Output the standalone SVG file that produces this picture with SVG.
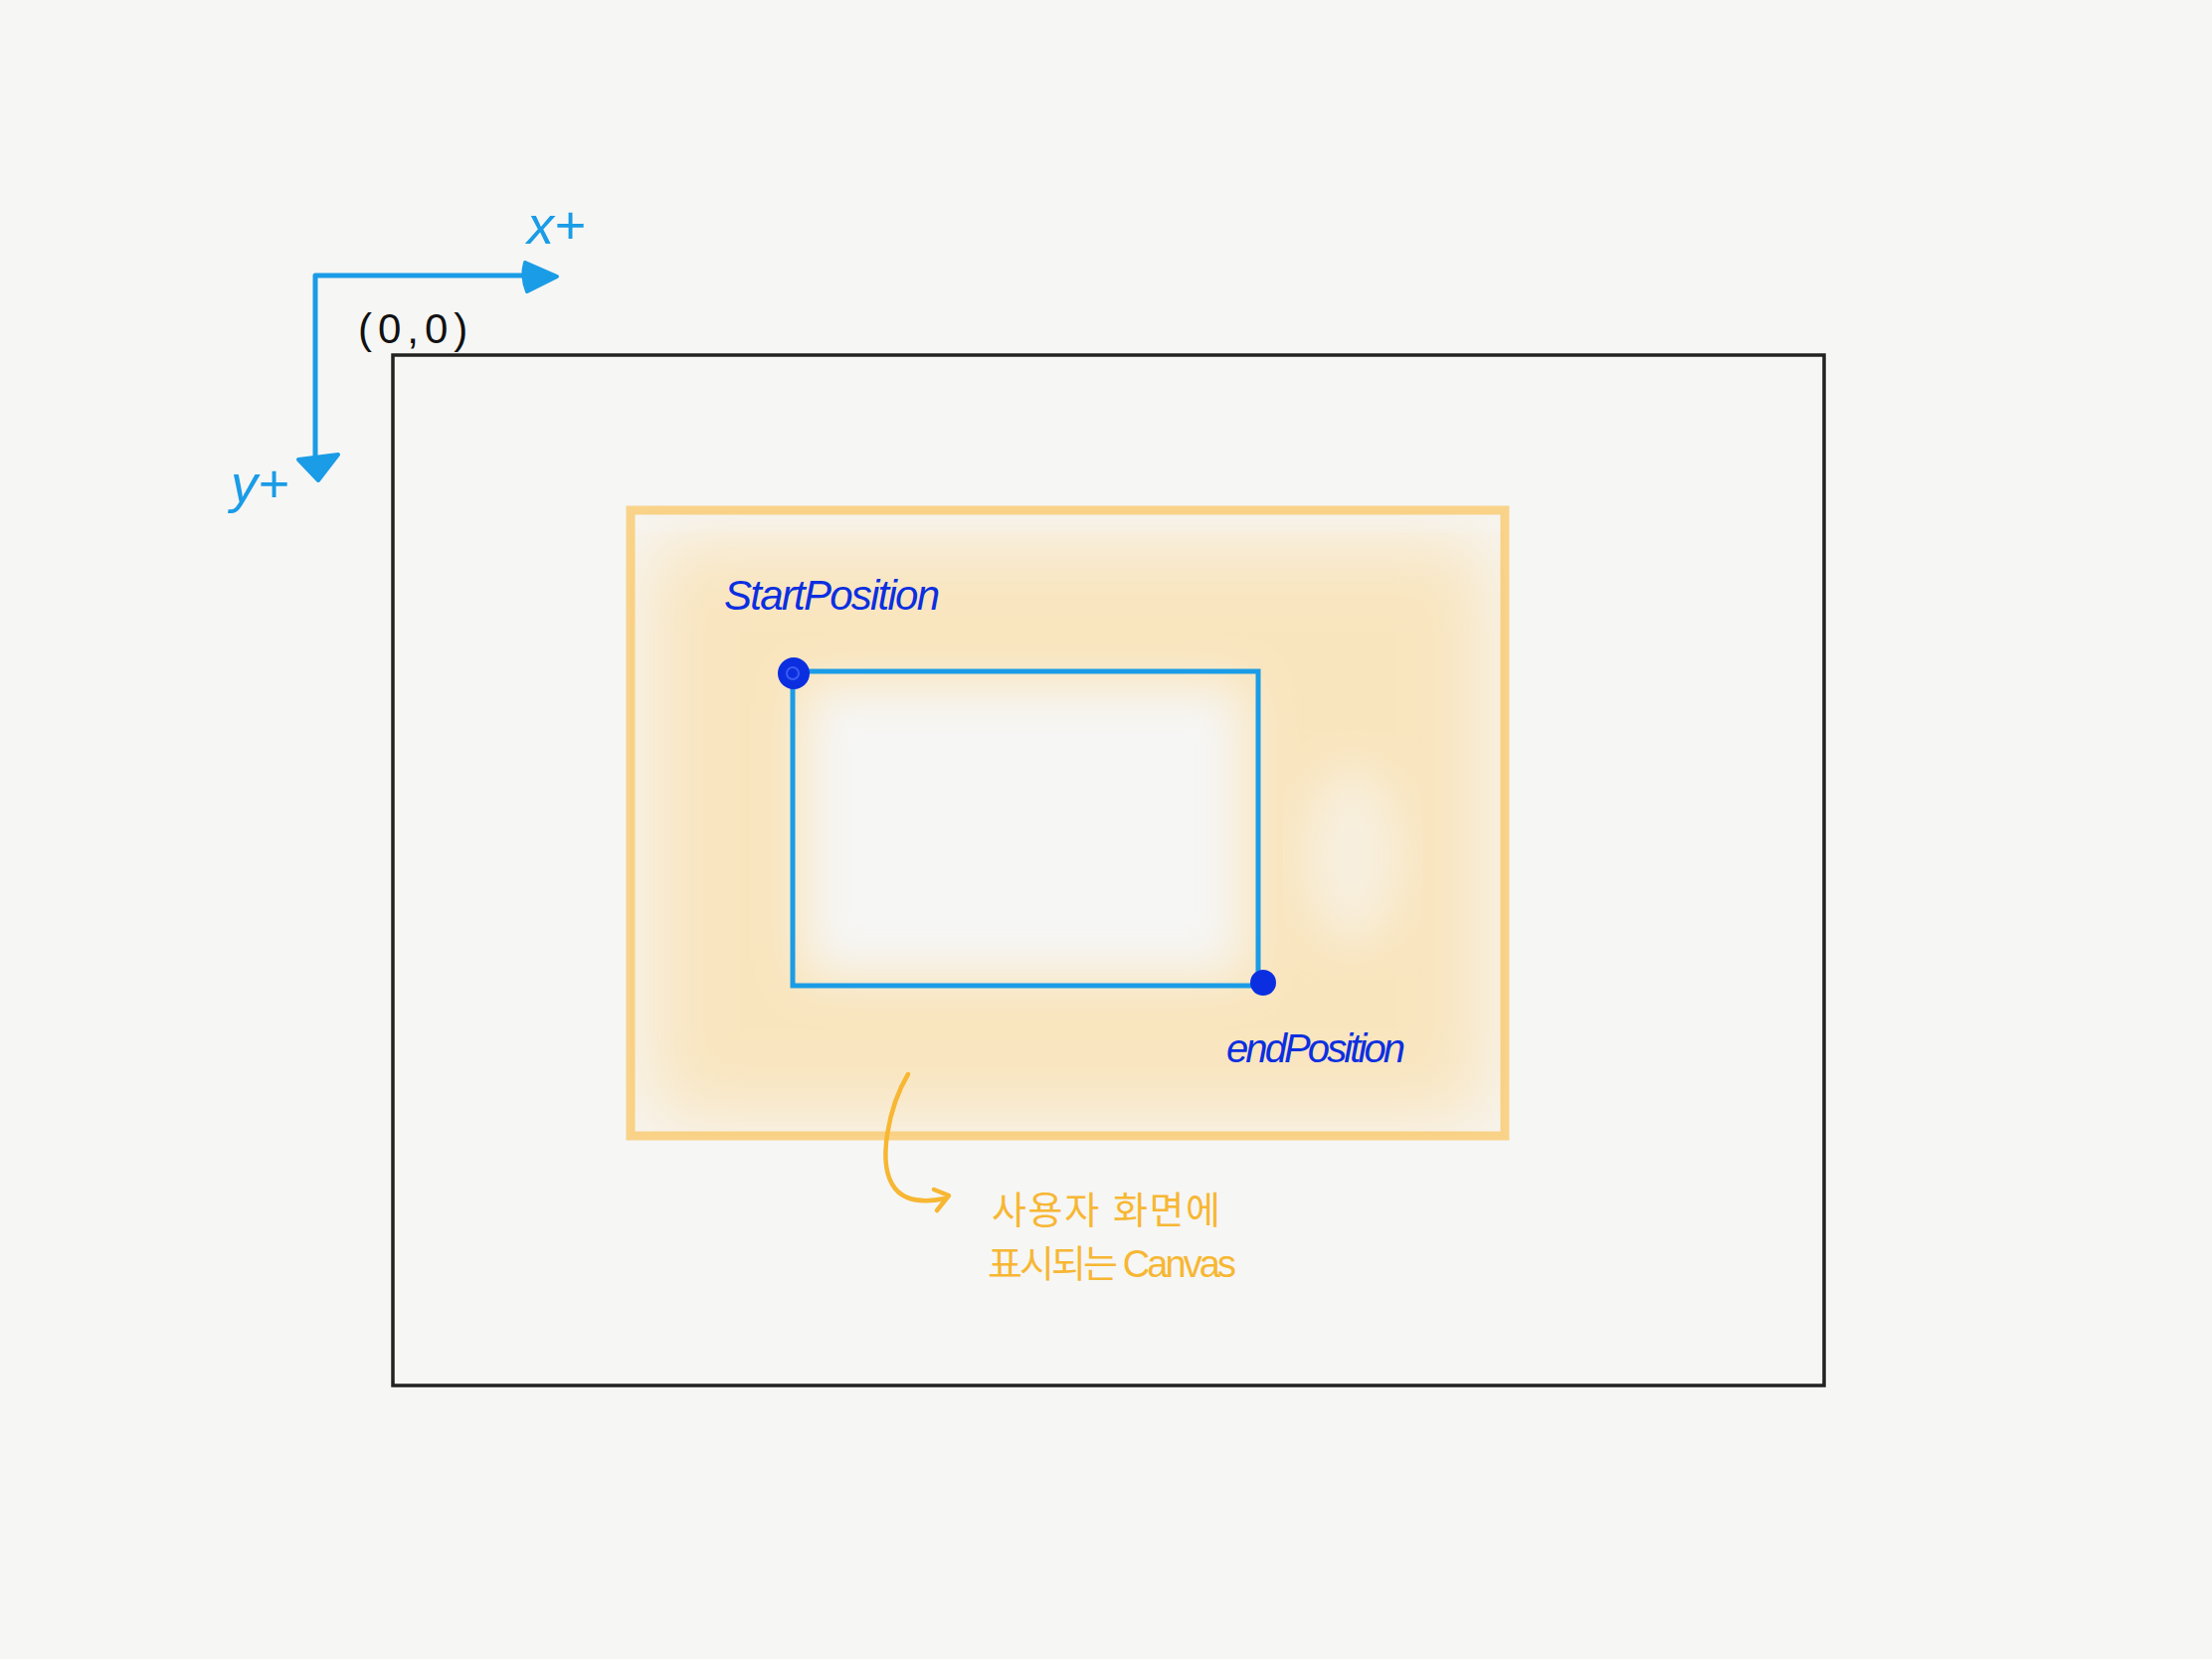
<svg xmlns="http://www.w3.org/2000/svg" width="2224" height="1668" viewBox="0 0 2224 1668">
<defs>
<style>
.axis{stroke:#1a9ce6;stroke-width:5;fill:none;stroke-linecap:round;stroke-linejoin:round}
.axtext{fill:#1a9ce6;font-family:"Liberation Sans","DejaVu Sans",sans-serif;font-style:italic}
.hand{fill:#0b2fe0;font-family:"Liberation Sans","DejaVu Sans",sans-serif;font-style:italic}
.note{fill:#f7b733;font-family:"Liberation Sans","Noto Sans CJK KR",sans-serif}
.orange{stroke:#f9c766;stroke-width:9;fill:none;opacity:0.75}
</style>
<filter id="blur40" x="-20%" y="-20%" width="140%" height="140%"><feGaussianBlur stdDeviation="40"/></filter>
<filter id="blur25" x="-20%" y="-20%" width="140%" height="140%"><feGaussianBlur stdDeviation="25"/></filter>
<clipPath id="orclip"><rect x="634" y="513" width="879" height="629"/></clipPath>
</defs>
<rect width="2224" height="1668" fill="#f6f6f5"/>

<g id="canvas-outer">
<rect x="395" y="357" width="1439" height="1036" fill="none" stroke="#222" stroke-width="3.5"/>
<text x="360" y="345" font-family="Liberation Sans,DejaVu Sans,sans-serif" font-size="42" fill="#111" letter-spacing="6">(0,0)</text>
</g>

<g id="visible-canvas">
<g clip-path="url(#orclip)">
<rect x="650" y="540" width="850" height="590" fill="#fbdca0" opacity="0.65" filter="url(#blur40)"/>
<rect x="810" y="690" width="440" height="290" fill="#f6f6f5" filter="url(#blur25)"/>
<rect x="620" y="500" width="900" height="30" fill="#f6f6f5" opacity="0.6" filter="url(#blur25)"/>
<ellipse cx="1360" cy="860" rx="50" ry="90" fill="#f6f6f5" opacity="0.6" filter="url(#blur25)"/>
</g>
<rect class="orange" x="634" y="513" width="879" height="629"/>
</g>

<g id="selection">
<rect x="797" y="675" width="468" height="316" fill="none" stroke="#1a9ce6" stroke-width="5"/>
</g>

<g id="start-position">
<circle cx="798" cy="677" r="16" fill="#0b2fe0"/>
<circle cx="797" cy="677" r="6" fill="none" stroke="#3a5cf0" stroke-width="2"/>
<text class="hand" x="728" y="613" font-size="42" textLength="217">StartPosition</text>
</g>

<g id="end-position">
<circle cx="1270" cy="988" r="13" fill="#0b2fe0"/>
<text class="hand" x="1233" y="1068" font-size="40" textLength="180">endPosition</text>
</g>

<g id="axes">
<path class="axis" d="M317,475 L317,277 L555,277"/>
<path d="M528,264 L560,278 L530,293 Q524,278 528,264 Z" fill="#1a9ce6" stroke="#1a9ce6" stroke-width="4" stroke-linejoin="round"/>
<path d="M300,462 L340,457 L320,483 Z" fill="#1a9ce6" stroke="#1a9ce6" stroke-width="4" stroke-linejoin="round"/>
<text class="axtext" x="530" y="245" font-size="54">x+</text>
<text class="axtext" x="232" y="505" font-size="54">y+</text>
</g>

<g id="connectors">
<path d="M913,1080 C895,1110 880,1170 900,1195 C912,1210 935,1208 950,1205" fill="none" stroke="#f7b733" stroke-width="4.5" stroke-linecap="round"/>
<path d="M939,1196 L954,1202 L942,1217" fill="none" stroke="#f7b733" stroke-width="4.5" stroke-linecap="round" stroke-linejoin="round"/>
</g>

<g id="note">
<text class="note" x="997" y="1230" font-size="38" textLength="230">사용자 화면에</text>
<text class="note" x="993" y="1284" font-size="38" textLength="250">표시되는 Canvas</text>
</g>
</svg>
